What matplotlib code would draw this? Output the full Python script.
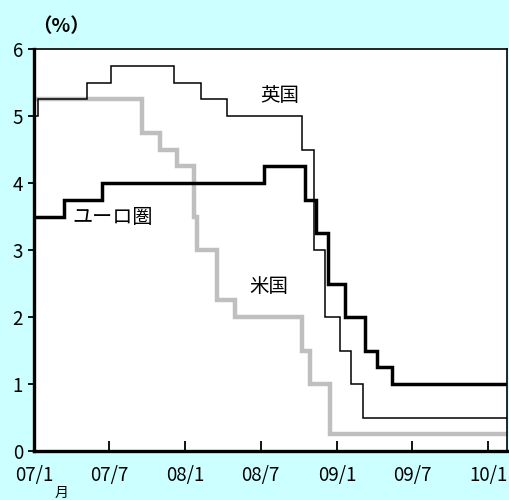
import datetime as dt
import matplotlib
matplotlib.use("Agg")
import matplotlib.pyplot as plt

plt.rcParams["font.family"] = ["Noto Sans CJK JP", "DejaVu Sans"]

# policy rate change dates and levels (%)
uk_dates = ["2006-12-01", "2007-01-11", "2007-05-10", "2007-07-05", "2007-12-06",
            "2008-02-07", "2008-04-10", "2008-10-08", "2008-11-06", "2008-12-04",
            "2009-01-08", "2009-02-05", "2009-03-05"]
uk_rates = [5.0, 5.25, 5.5, 5.75, 5.5, 5.25, 5.0, 4.5, 3.0, 2.0, 1.5, 1.0, 0.5]

eu_dates = ["2006-12-01", "2007-03-14", "2007-06-13", "2008-07-09", "2008-10-15",
            "2008-11-12", "2008-12-10", "2009-01-21", "2009-03-11", "2009-04-08",
            "2009-05-13"]
eu_rates = [3.5, 3.75, 4.0, 4.25, 3.75, 3.25, 2.5, 2.0, 1.5, 1.25, 1.0]

us_dates = ["2006-12-01", "2007-09-18", "2007-10-31", "2007-12-11", "2008-01-22",
            "2008-01-30", "2008-03-18", "2008-04-30", "2008-10-08", "2008-10-29",
            "2008-12-16"]
us_rates = [5.25, 4.75, 4.5, 4.25, 3.5, 3.0, 2.25, 2.0, 1.5, 1.0, 0.25]

end_date = "2010-03-01"
xticks = ["2007-01-01", "2007-07-01", "2008-01-01", "2008-07-01",
          "2009-01-01", "2009-07-01", "2010-01-01"]
xtick_labels = ["07/1", "07/7", "08/1", "08/7", "09/1", "09/7", "10/1"]


def to_dt(s):
    return dt.datetime.strptime(s, "%Y-%m-%d")


def step(ax, dates, rates, **kw):
    x = [to_dt(d) for d in dates] + [to_dt(end_date)]
    y = list(rates) + [rates[-1]]
    ax.step(x, y, where="post", solid_joinstyle="miter", **kw)


fig = plt.figure(figsize=(5.1, 5.0), dpi=100, facecolor="#CCFFFF")
ax = fig.add_axes([0.0667, 0.098, 0.927, 0.804])
ax.set_facecolor("white")

step(ax, us_dates, us_rates, color="#BFBFBF", lw=3.2)
step(ax, uk_dates, uk_rates, color="black", lw=1.1)
step(ax, eu_dates, eu_rates, color="black", lw=2.5)

ax.set_xlim(to_dt("2007-01-01"), to_dt("2010-02-15"))
ax.set_ylim(0, 6)
ax.set_yticks(range(0, 7))
ax.set_xticks([to_dt(d) for d in xticks])
ax.set_xticklabels(xtick_labels)

for side in ["left", "bottom"]:
    ax.spines[side].set_linewidth(2.4)
for side in ["top", "right"]:
    ax.spines[side].set_linewidth(1.2)

ax.tick_params(axis="x", direction="in", length=7, width=1.3,
               labelsize=13.5, pad=10)
ax.tick_params(axis="y", direction="out", length=4, width=1.3,
               labelsize=13.5, pad=4)

fig.text(32 / 510, 1 - 27 / 500, "（%）", fontsize=14, fontweight="bold",
         ha="left", va="center")
fig.text(62 / 510, 1 - 493 / 500, "月", fontsize=10, ha="center", va="center")

ax.text(to_dt("2008-08-15"), 5.31, "英国", fontsize=14, ha="center", va="center")
ax.text(to_dt("2007-07-10"), 3.49, "ユーロ圏", fontsize=14.5, ha="center", va="center")
ax.text(to_dt("2008-07-20"), 2.45, "米国", fontsize=14, ha="center", va="center")

fig.savefig("out.png", dpi=100, facecolor=fig.get_facecolor())
